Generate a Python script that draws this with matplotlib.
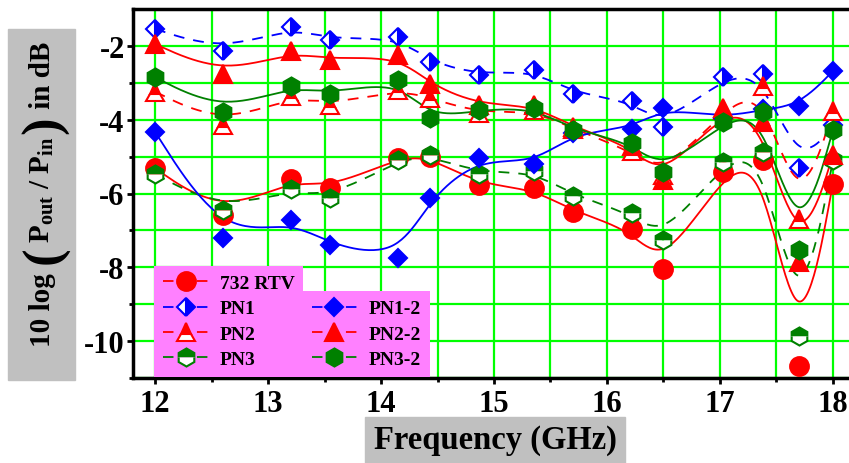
import numpy as np
import matplotlib
matplotlib.use('Agg')
import matplotlib.pyplot as plt
from matplotlib.lines import Line2D
from matplotlib.patches import Rectangle

# данные
freq = [12.0, 12.6, 13.2, 13.55, 14.15, 14.43, 14.87, 15.35, 15.7, 16.22, 16.5, 17.03, 17.38, 17.7, 18.0]
rtv732 = [-5.32, -6.57, -5.61, -5.86, -5.03, -5.0, -5.77, -5.86, -6.5, -6.97, -8.05, -5.43, -5.1, -10.68, -5.73]
pn1 = [-1.54, -2.14, -1.48, -1.84, -1.75, -2.43, -2.79, -2.65, -3.29, -3.49, -4.19, -2.83, -2.77, -5.32, -4.15]
pn2 = [-3.24, -4.14, -3.35, -3.6, -3.19, -3.4, -3.83, -3.74, -4.25, -4.85, -5.5, -3.75, -3.1, -6.68, -3.76]
pn3 = [-5.47, -6.45, -5.88, -6.12, -5.1, -4.96, -5.46, -5.39, -6.06, -6.54, -7.25, -5.14, -4.87, -9.85, -5.1]
pn1_2 = [-4.33, -7.2, -6.72, -7.4, -7.75, -6.12, -5.03, -5.21, -4.35, -4.24, -3.67, -3.95, -3.72, -3.62, -2.68]
pn2_2 = [-1.95, -2.77, -2.15, -2.38, -2.26, -3.04, -3.6, -3.6, -4.21, -4.72, -5.64, -3.69, -4.05, -7.86, -4.96]
pn3_2 = [-2.85, -3.78, -3.08, -3.31, -2.92, -3.96, -3.74, -3.67, -4.28, -4.62, -5.41, -4.05, -3.78, -7.54, -4.28]

plt.rcParams['font.family'] = ['Liberation Serif', 'DejaVu Serif']
plt.rcParams['font.weight'] = 'bold'
plt.rcParams['axes.unicode_minus'] = False
plt.rcParams['mathtext.fontset'] = 'custom'
plt.rcParams['mathtext.rm'] = 'Liberation Serif:bold'
plt.rcParams['mathtext.it'] = 'Liberation Serif:bold'
plt.rcParams['mathtext.bf'] = 'Liberation Serif:bold'


def bspline(x, y, n=25):        # кубический B-сплайн по точкам как в Origin
    px = np.r_[x[0], x[0], x, x[-1], x[-1]]
    py = np.r_[y[0], y[0], y, y[-1], y[-1]]
    t = np.linspace(0, 1, n)
    b0 = (1 - t) ** 3 / 6
    b1 = (3 * t ** 3 - 6 * t ** 2 + 4) / 6
    b2 = (-3 * t ** 3 + 3 * t ** 2 + 3 * t + 1) / 6
    b3 = t ** 3 / 6
    xs, ys = [], []
    for i in range(len(px) - 3):
        xs.append(b0 * px[i] + b1 * px[i + 1] + b2 * px[i + 2] + b3 * px[i + 3])
        ys.append(b0 * py[i] + b1 * py[i + 1] + b2 * py[i + 2] + b3 * py[i + 3])
    return np.concatenate(xs), np.concatenate(ys)


fig = plt.figure(figsize=(8.49, 4.64), dpi=100)
ax = fig.add_axes([133 / 849, 1 - 379 / 464, 716 / 849, 369 / 464])

green = '#008000'
dash = (0, (6, 5))
series = [
    ('732 RTV', rtv732, 'red', '-', 'o', 'full', 13.5),
    ('PN1', pn1, 'blue', dash, 'D', 'right', 9.5),
    ('PN2', pn2, 'red', dash, '^', 'top', 13),
    ('PN3', pn3, green, dash, 'h', 'top', 13),
    ('PN1-2', pn1_2, 'blue', '-', 'D', 'full', 9.5),
    ('PN2-2', pn2_2, 'red', '-', '^', 'full', 13),
    ('PN3-2', pn3_2, green, '-', 'h', 'full', 13),
]

handles = []
for k, (name, vals, col, ls, mk, fs, ms) in enumerate(series):
    sx, sy = bspline(np.array(freq), np.array(vals))
    ax.plot(sx, sy, color=col, ls=ls, lw=1.3, zorder=3 + k)
    ax.plot(freq, vals, ls='none', marker=mk, ms=ms, color=col, mec=col, mew=1.5,
            fillstyle=fs, markerfacecoloralt='white', zorder=10 + k)
    handles.append(Line2D([], [], color=col, lw=1.3, ls=(0, (5.8, 13)), marker=mk, ms=ms,
                          mec=col, mew=1.5, fillstyle=fs, markerfacecoloralt='white'))

ax.set_xlim(11.805, 18.142)
ax.set_ylim(-11.0, -1.0)
ax.set_xticks([12, 13, 14, 15, 16, 17, 18])
ax.set_xticks(np.arange(12.5, 18, 1.0), minor=True)
ax.set_yticks([-10, -8, -6, -4, -2])
ax.set_yticks([-11, -9, -7, -5, -3], minor=True)
ax.grid(True, which='both', color='#00FF00', lw=1.6, zorder=1)
ax.set_axisbelow(True)
ax.tick_params(which='major', direction='out', length=4, width=2, labelsize=22)
ax.tick_params(axis='y', which='major', pad=2)
ax.tick_params(axis='x', which='major', pad=4)
ax.tick_params(which='minor', direction='out', length=3, width=2)
for s in ['left', 'bottom', 'top']:
    ax.spines[s].set_linewidth(2.5)
ax.spines['right'].set_visible(False)

leg_kw = dict(loc='lower left', borderaxespad=0,
              prop={'family': 'Liberation Serif', 'weight': 'bold', 'size': 14},
              handlelength=2.3, handletextpad=0.6, labelspacing=0.4,
              borderpad=0.45, facecolor='#FF80FF', edgecolor='none',
              framealpha=1, fancybox=False)
leg1 = ax.legend(handles[:4], [s[0] for s in series[:4]], bbox_to_anchor=(0.03, 0.003), **leg_kw)
ax.add_artist(leg1)
leg2 = ax.legend(handles[4:], [s[0] for s in series[4:]], bbox_to_anchor=(0.243, 0.003), **leg_kw)
leg1.set_zorder(30)
leg2.set_zorder(30)
fig.canvas.draw()
bb = leg1.get_window_extent().transformed(ax.transAxes.inverted())
leg2.set_bbox_to_anchor((bb.x1, bb.y0), transform=ax.transAxes)   # вторая легенда вплотную к первой

# серые плашки под подписями осей
fig.patches.append(Rectangle((365 / 849, 0), 260 / 849, 46 / 464, transform=fig.transFigure,
                             color='#C0C0C0', zorder=-1))
fig.patches.append(Rectangle((8 / 849, 1 - 381 / 464), 67 / 849, 351 / 464, transform=fig.transFigure,
                             color='#C0C0C0', zorder=-1))
fig.text(495 / 849, 1 - 441 / 464, 'Frequency (GHz)', ha='center', va='center', size=23.5)

# подпись оси y собирается из кусков, чтобы скобки были крупными
parts = [('10 log ', 21, 50, 0), ('(', 38, 58, 2), (r'P$_{\mathrm{out}}$ / P$_{\mathrm{in}}$', 21, 50, 3),
         (')', 38, 58, 3), (' in dB', 21, 50, 0)]
prev = None
for s, size, xb, gap in parts:
    kw = dict(rotation=90, rotation_mode='anchor', ha='left', va='baseline', size=size, zorder=40)
    if prev is None:
        prev = ax.annotate(s, xy=(xb, 464 - 347), xycoords='figure pixels', annotation_clip=False, **kw)
    else:
        prev = ax.annotate(s, xy=(xb, 1.0), xycoords=('figure pixels', prev), xytext=(0, gap),
                           textcoords='offset pixels', annotation_clip=False, **kw)

fig.savefig('out.png', dpi=100)
